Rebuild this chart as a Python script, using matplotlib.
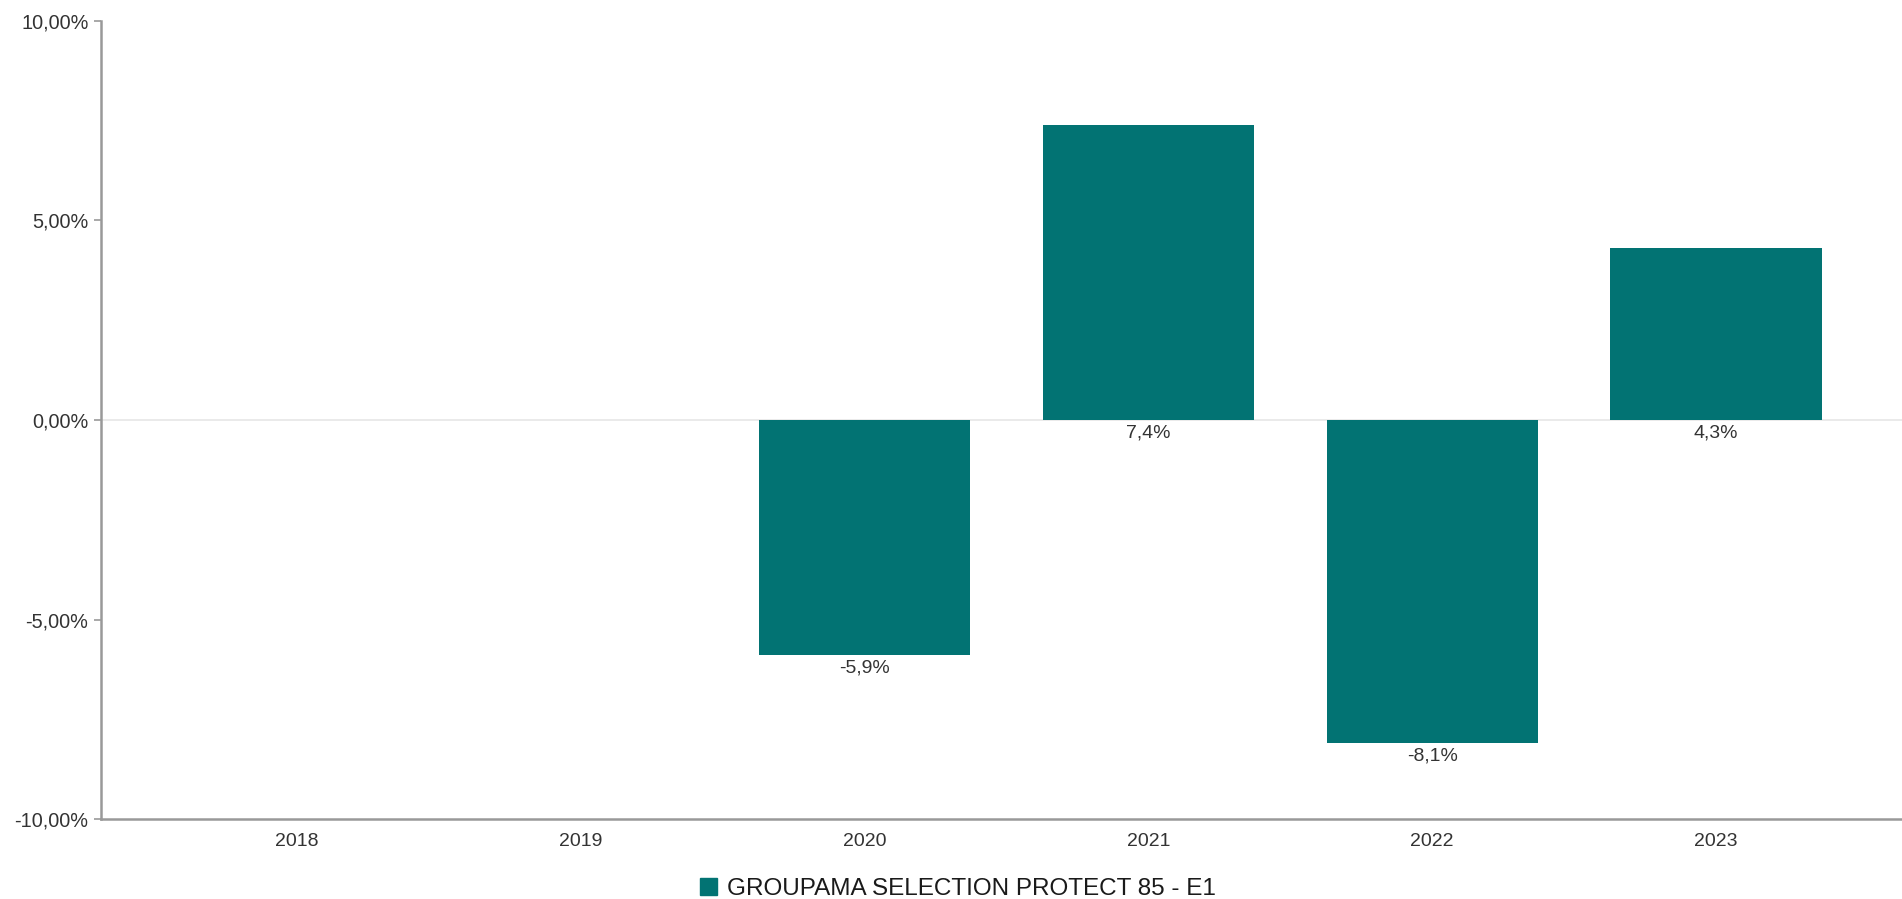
import matplotlib
matplotlib.use("Agg")
import matplotlib.pyplot as plt
from matplotlib.patches import Patch

years = ["2018", "2019", "2020", "2021", "2022", "2023"]
values = [None, None, -5.9, 7.4, -8.1, 4.3]
labels = ["", "", "-5,9%", "7,4%", "-8,1%", "4,3%"]
yticks = [-10, -5, 0, 5, 10]
ytick_labels = ["-10,00%", "-5,00%", "0,00%", "5,00%", "10,00%"]
series_name = "GROUPAMA SELECTION PROTECT 85 - E1"
color = "#027373"

plt.rcParams['font.family'] = ['Liberation Sans', 'DejaVu Sans']

W, H = 1902, 899
fig = plt.figure(figsize=(W/100, H/100), dpi=100)
left, right, top, bottom = 101, 1902, 21, 819
ax = fig.add_axes([left/W, 1-bottom/H, (right-left)/W, (bottom-top)/H])

x = list(range(len(years)))
for xi, v, lab in zip(x, values, labels):
    if v is None:
        continue
    ax.bar(xi, v, width=0.745, color=color, zorder=3)
    if v >= 0:
        ax.annotate(lab, (xi, 0), xytext=(0, -3), textcoords="offset points",
                    ha="center", va="top", fontsize=14, color="#333333")
    else:
        ax.annotate(lab, (xi, v), xytext=(0, -3), textcoords="offset points",
                    ha="center", va="top", fontsize=14, color="#333333")

ax.axhline(0, color="#e6e6e6", lw=1.2, zorder=1)
ax.set_ylim(-10, 10)
ax.set_xlim(-0.69, 5.655)
ax.set_yticks(yticks)
ax.set_yticklabels(ytick_labels)
ax.set_xticks(x)
ax.set_xticklabels(years)
for s in ["top", "right"]:
    ax.spines[s].set_visible(False)
for s in ["left", "bottom"]:
    ax.spines[s].set_color("#999999")
    ax.spines[s].set_linewidth(1.8)
ax.tick_params(axis="y", length=5, width=1.2, color="#999999", labelsize=14.3, labelcolor="#333333", pad=4)
ax.tick_params(axis="x", length=0, labelsize=14, labelcolor="#333333", pad=10)

fig.legend(handles=[Patch(color=color, label=series_name)], loc="center",
           bbox_to_anchor=(958/W, 1-889/H), frameon=False, fontsize=17.5,
           handlelength=0.7, handleheight=0.7, handletextpad=0.4, labelcolor="#1a1a1a")

fig.savefig("out.png", dpi=100, facecolor="white")
